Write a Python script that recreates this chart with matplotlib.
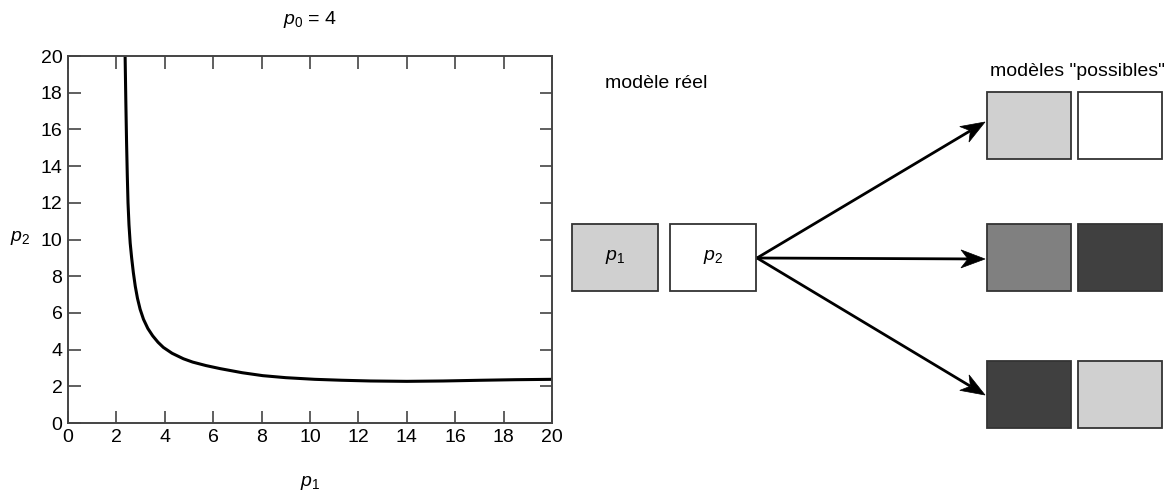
import numpy as np
import matplotlib
matplotlib.use("Agg")
import matplotlib.pyplot as plt
from matplotlib.patches import Rectangle, Polygon

plt.rcParams['font.family'] = ['Liberation Sans', 'DejaVu Sans']
plt.rcParams['mathtext.fontset'] = 'custom'
plt.rcParams['mathtext.rm'] = 'Liberation Sans'
plt.rcParams['mathtext.it'] = 'Liberation Sans:italic'

# curve p2(p1) for p0 = 4
p1 = [2.36, 2.39, 2.42, 2.45, 2.48, 2.52, 2.57, 2.63, 2.70, 2.78, 2.87, 2.98,
      3.12, 3.30, 3.50, 3.72, 3.94, 4.30, 4.77, 5.15, 5.70, 6.30, 7.20, 8.05,
      9.00, 10.2, 11.3, 12.5, 14.0, 15.5, 17.1, 18.5, 20.0]
p2 = [20.0, 17.5, 15.3, 13.5, 12.0, 10.8, 9.8, 9.0, 8.2, 7.45, 6.8, 6.2,
      5.65, 5.15, 4.75, 4.4, 4.12, 3.8, 3.5, 3.32, 3.13, 2.96, 2.74, 2.58,
      2.47, 2.38, 2.33, 2.29, 2.27, 2.29, 2.33, 2.36, 2.38]
ticks = list(range(0, 21, 2))

# schematic on the right: grey levels of the parameter boxes
real_colors = ['#d0d0d0', '#ffffff']
real_labels = [r'$p_1$', r'$p_2$']
possible_colors = [['#d0d0d0', '#ffffff'],
                   ['#808080', '#404040'],
                   ['#404040', '#d0d0d0']]

W, H = 1167, 497
FS = 14
fig = plt.figure(figsize=(W / 100, H / 100), dpi=100)

# left: the curve
ax = fig.add_axes([68 / W, 1 - 423 / H, 484 / W, 367 / H])
ax.plot(p1, p2, color='black', lw=2.2, solid_joinstyle='round')
ax.set_xlim(0, 20)
ax.set_ylim(0, 20)
ax.set_xticks(ticks)
ax.set_yticks(ticks)
ax.tick_params(direction='in', top=True, right=True, length=9, width=1.2,
               color='#444444', labelsize=FS, pad=4)
for s in ax.spines.values():
    s.set_color('#444444')
    s.set_linewidth(1.4)
fig.text(310 / W, 1 - 20 / H, r'$p_0$ = 4', ha='center', va='center', fontsize=FS)
fig.text(20 / W, 1 - 238 / H, r'$p_2$', ha='center', va='center', fontsize=FS)
fig.text(310 / W, 1 - 483 / H, r'$p_1$', ha='center', va='center', fontsize=FS)

# right: the diagram, in pixel coordinates
dx = fig.add_axes([0, 0, 1, 1])
dx.set_xlim(0, W)
dx.set_ylim(H, 0)
dx.axis('off')
dx.patch.set_alpha(0)

bw, bh = 86, 67
real_x = [572, 670]
real_y = 224
for x, c, lab in zip(real_x, real_colors, real_labels):
    dx.add_patch(Rectangle((x, real_y), bw, bh, facecolor=c, edgecolor='#333333', lw=1.3))
    dx.text(x + bw / 2, real_y + bh / 2, lab, ha='center', va='center', fontsize=FS)

poss_x = [987, 1078]
poss_y = [92, 224, 361]
for y, cols in zip(poss_y, possible_colors):
    for x, c in zip(poss_x, cols):
        dx.add_patch(Rectangle((x, y), 84, bh, facecolor=c, edgecolor='#333333', lw=1.3))


def arrow(start, tip, hl=24, hw=9, notch=7):
    s = np.array(start, float)
    t = np.array(tip, float)
    u = (t - s) / np.hypot(*(t - s))
    n = np.array([-u[1], u[0]])
    back = t - hl * u
    mid = t - (hl - notch) * u
    dx.plot([s[0], mid[0]], [s[1], mid[1]], color='black', lw=2.0, solid_capstyle='butt')
    head = [t, back + hw * n, mid, back - hw * n]
    dx.add_patch(Polygon(head, closed=True, facecolor='black', edgecolor='black', lw=0.5))


start = (757, 258)
for tip in [(985, 122), (985, 259), (985, 395)]:
    arrow(start, tip)

dx.text(656, 84, 'modèle réel', ha='center', va='center', fontsize=FS)
dx.text(1077, 72, 'modèles "possibles"', ha='center', va='center', fontsize=FS)

fig.savefig('out.png', dpi=100)
